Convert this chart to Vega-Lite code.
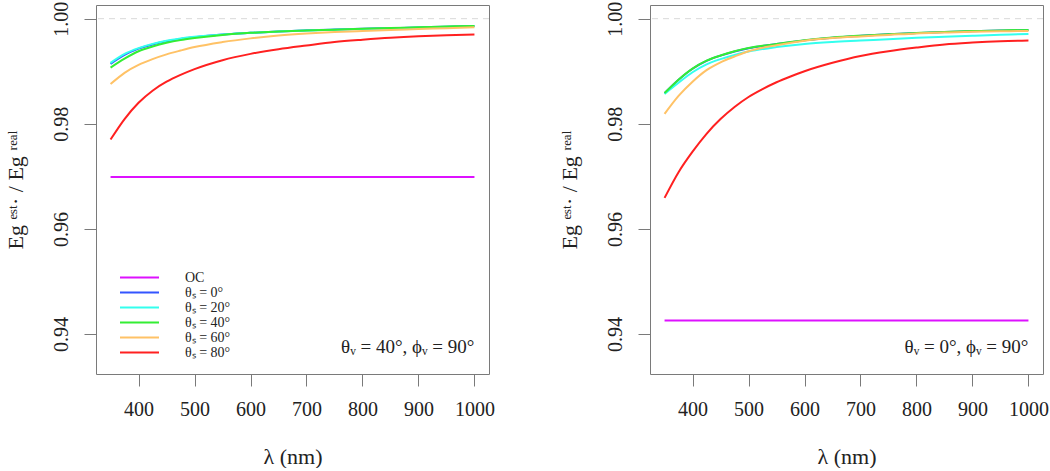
{
  "$schema": "https://vega.github.io/schema/vega-lite/v6.json",
  "autosize": {"type": "pad"},
  "padding": {"left": 3, "top": 0, "right": 0, "bottom": 0},
  "bounds": "flush",
  "spacing": 161,
  "background": "white",
  "config": {
    "font": "Liberation Serif",
    "view": {"stroke": "#7a7a7a", "strokeWidth": 1},
    "axis": {"grid": false, "domain": false, "tickColor": "#7a7a7a", "tickSize": 12, "labelFontSize": 20, "titleFontSize": 22, "labelColor": "#222222", "titleColor": "#222222", "titleFontWeight": "normal"},
    "axisX": {"labelPadding": 13, "titlePadding": 27},
    "axisY": {"labelAngle": -90, "labelAlign": "center", "labelBaseline": "bottom", "labelPadding": 13, "titlePadding": 24}
  },
  "datasets": {
    "left": [
      {"lambda": 350, "ratio": 0.9699, "series": "OC"},
      {"lambda": 1000, "ratio": 0.9699, "series": "OC"},
      {"lambda": 350, "ratio": 0.9914, "series": "θₛ = 0°"},
      {"lambda": 375, "ratio": 0.9931, "series": "θₛ = 0°"},
      {"lambda": 400, "ratio": 0.9943, "series": "θₛ = 0°"},
      {"lambda": 425, "ratio": 0.9951, "series": "θₛ = 0°"},
      {"lambda": 450, "ratio": 0.9957, "series": "θₛ = 0°"},
      {"lambda": 475, "ratio": 0.99615, "series": "θₛ = 0°"},
      {"lambda": 500, "ratio": 0.99648, "series": "θₛ = 0°"},
      {"lambda": 550, "ratio": 0.99698, "series": "θₛ = 0°"},
      {"lambda": 600, "ratio": 0.9973, "series": "θₛ = 0°"},
      {"lambda": 650, "ratio": 0.99758, "series": "θₛ = 0°"},
      {"lambda": 700, "ratio": 0.99778, "series": "θₛ = 0°"},
      {"lambda": 750, "ratio": 0.99793, "series": "θₛ = 0°"},
      {"lambda": 800, "ratio": 0.99808, "series": "θₛ = 0°"},
      {"lambda": 850, "ratio": 0.9982, "series": "θₛ = 0°"},
      {"lambda": 900, "ratio": 0.99834, "series": "θₛ = 0°"},
      {"lambda": 950, "ratio": 0.99847, "series": "θₛ = 0°"},
      {"lambda": 1000, "ratio": 0.9986, "series": "θₛ = 0°"},
      {"lambda": 350, "ratio": 0.9916, "series": "θₛ = 20°"},
      {"lambda": 375, "ratio": 0.9933, "series": "θₛ = 20°"},
      {"lambda": 400, "ratio": 0.9944, "series": "θₛ = 20°"},
      {"lambda": 425, "ratio": 0.9952, "series": "θₛ = 20°"},
      {"lambda": 450, "ratio": 0.9958, "series": "θₛ = 20°"},
      {"lambda": 475, "ratio": 0.99622, "series": "θₛ = 20°"},
      {"lambda": 500, "ratio": 0.99655, "series": "θₛ = 20°"},
      {"lambda": 550, "ratio": 0.997, "series": "θₛ = 20°"},
      {"lambda": 600, "ratio": 0.9973, "series": "θₛ = 20°"},
      {"lambda": 650, "ratio": 0.99758, "series": "θₛ = 20°"},
      {"lambda": 700, "ratio": 0.99775, "series": "θₛ = 20°"},
      {"lambda": 750, "ratio": 0.9979, "series": "θₛ = 20°"},
      {"lambda": 800, "ratio": 0.99805, "series": "θₛ = 20°"},
      {"lambda": 850, "ratio": 0.99818, "series": "θₛ = 20°"},
      {"lambda": 900, "ratio": 0.99832, "series": "θₛ = 20°"},
      {"lambda": 950, "ratio": 0.99845, "series": "θₛ = 20°"},
      {"lambda": 1000, "ratio": 0.99858, "series": "θₛ = 20°"},
      {"lambda": 350, "ratio": 0.9907, "series": "θₛ = 40°"},
      {"lambda": 375, "ratio": 0.9924, "series": "θₛ = 40°"},
      {"lambda": 400, "ratio": 0.9938, "series": "θₛ = 40°"},
      {"lambda": 425, "ratio": 0.9947, "series": "θₛ = 40°"},
      {"lambda": 450, "ratio": 0.9954, "series": "θₛ = 40°"},
      {"lambda": 475, "ratio": 0.99592, "series": "θₛ = 40°"},
      {"lambda": 500, "ratio": 0.9963, "series": "θₛ = 40°"},
      {"lambda": 550, "ratio": 0.9969, "series": "θₛ = 40°"},
      {"lambda": 600, "ratio": 0.9973, "series": "θₛ = 40°"},
      {"lambda": 650, "ratio": 0.99755, "series": "θₛ = 40°"},
      {"lambda": 700, "ratio": 0.99775, "series": "θₛ = 40°"},
      {"lambda": 750, "ratio": 0.9979, "series": "θₛ = 40°"},
      {"lambda": 800, "ratio": 0.99808, "series": "θₛ = 40°"},
      {"lambda": 850, "ratio": 0.99822, "series": "θₛ = 40°"},
      {"lambda": 900, "ratio": 0.99836, "series": "θₛ = 40°"},
      {"lambda": 950, "ratio": 0.9985, "series": "θₛ = 40°"},
      {"lambda": 1000, "ratio": 0.99862, "series": "θₛ = 40°"},
      {"lambda": 350, "ratio": 0.98756, "series": "θₛ = 60°"},
      {"lambda": 375, "ratio": 0.9897, "series": "θₛ = 60°"},
      {"lambda": 400, "ratio": 0.9912, "series": "θₛ = 60°"},
      {"lambda": 425, "ratio": 0.9923, "series": "θₛ = 60°"},
      {"lambda": 450, "ratio": 0.9932, "series": "θₛ = 60°"},
      {"lambda": 475, "ratio": 0.99393, "series": "θₛ = 60°"},
      {"lambda": 500, "ratio": 0.9946, "series": "θₛ = 60°"},
      {"lambda": 550, "ratio": 0.99555, "series": "θₛ = 60°"},
      {"lambda": 600, "ratio": 0.99625, "series": "θₛ = 60°"},
      {"lambda": 650, "ratio": 0.99678, "series": "θₛ = 60°"},
      {"lambda": 700, "ratio": 0.99716, "series": "θₛ = 60°"},
      {"lambda": 750, "ratio": 0.99744, "series": "θₛ = 60°"},
      {"lambda": 800, "ratio": 0.99766, "series": "θₛ = 60°"},
      {"lambda": 850, "ratio": 0.99785, "series": "θₛ = 60°"},
      {"lambda": 900, "ratio": 0.99802, "series": "θₛ = 60°"},
      {"lambda": 950, "ratio": 0.99819, "series": "θₛ = 60°"},
      {"lambda": 1000, "ratio": 0.99836, "series": "θₛ = 60°"},
      {"lambda": 350, "ratio": 0.977, "series": "θₛ = 80°"},
      {"lambda": 375, "ratio": 0.9809, "series": "θₛ = 80°"},
      {"lambda": 400, "ratio": 0.984, "series": "θₛ = 80°"},
      {"lambda": 425, "ratio": 0.9863, "series": "θₛ = 80°"},
      {"lambda": 450, "ratio": 0.988, "series": "θₛ = 80°"},
      {"lambda": 475, "ratio": 0.9893, "series": "θₛ = 80°"},
      {"lambda": 500, "ratio": 0.9904, "series": "θₛ = 80°"},
      {"lambda": 550, "ratio": 0.9921, "series": "θₛ = 80°"},
      {"lambda": 600, "ratio": 0.9933, "series": "θₛ = 80°"},
      {"lambda": 650, "ratio": 0.9942, "series": "θₛ = 80°"},
      {"lambda": 700, "ratio": 0.9949, "series": "θₛ = 80°"},
      {"lambda": 750, "ratio": 0.99555, "series": "θₛ = 80°"},
      {"lambda": 800, "ratio": 0.996, "series": "θₛ = 80°"},
      {"lambda": 850, "ratio": 0.99638, "series": "θₛ = 80°"},
      {"lambda": 900, "ratio": 0.99665, "series": "θₛ = 80°"},
      {"lambda": 950, "ratio": 0.99683, "series": "θₛ = 80°"},
      {"lambda": 1000, "ratio": 0.99697, "series": "θₛ = 80°"}
    ],
    "right": [
      {"lambda": 350, "ratio": 0.9426, "series": "OC"},
      {"lambda": 1000, "ratio": 0.9426, "series": "OC"},
      {"lambda": 350, "ratio": 0.98582, "series": "θₛ = 0°"},
      {"lambda": 375, "ratio": 0.98837, "series": "θₛ = 0°"},
      {"lambda": 400, "ratio": 0.99047, "series": "θₛ = 0°"},
      {"lambda": 425, "ratio": 0.99197, "series": "θₛ = 0°"},
      {"lambda": 450, "ratio": 0.99297, "series": "θₛ = 0°"},
      {"lambda": 475, "ratio": 0.99377, "series": "θₛ = 0°"},
      {"lambda": 500, "ratio": 0.99437, "series": "θₛ = 0°"},
      {"lambda": 550, "ratio": 0.99517, "series": "θₛ = 0°"},
      {"lambda": 600, "ratio": 0.99587, "series": "θₛ = 0°"},
      {"lambda": 650, "ratio": 0.99639, "series": "θₛ = 0°"},
      {"lambda": 700, "ratio": 0.99674, "series": "θₛ = 0°"},
      {"lambda": 750, "ratio": 0.99702, "series": "θₛ = 0°"},
      {"lambda": 800, "ratio": 0.99725, "series": "θₛ = 0°"},
      {"lambda": 850, "ratio": 0.99745, "series": "θₛ = 0°"},
      {"lambda": 900, "ratio": 0.9976, "series": "θₛ = 0°"},
      {"lambda": 950, "ratio": 0.99773, "series": "θₛ = 0°"},
      {"lambda": 1000, "ratio": 0.99783, "series": "θₛ = 0°"},
      {"lambda": 350, "ratio": 0.98566, "series": "θₛ = 20°"},
      {"lambda": 375, "ratio": 0.9878, "series": "θₛ = 20°"},
      {"lambda": 400, "ratio": 0.9898, "series": "θₛ = 20°"},
      {"lambda": 425, "ratio": 0.9913, "series": "θₛ = 20°"},
      {"lambda": 450, "ratio": 0.9923, "series": "θₛ = 20°"},
      {"lambda": 475, "ratio": 0.9931, "series": "θₛ = 20°"},
      {"lambda": 500, "ratio": 0.99375, "series": "θₛ = 20°"},
      {"lambda": 550, "ratio": 0.9946, "series": "θₛ = 20°"},
      {"lambda": 600, "ratio": 0.9952, "series": "θₛ = 20°"},
      {"lambda": 650, "ratio": 0.99557, "series": "θₛ = 20°"},
      {"lambda": 700, "ratio": 0.99583, "series": "θₛ = 20°"},
      {"lambda": 750, "ratio": 0.9961, "series": "θₛ = 20°"},
      {"lambda": 800, "ratio": 0.99635, "series": "θₛ = 20°"},
      {"lambda": 850, "ratio": 0.99655, "series": "θₛ = 20°"},
      {"lambda": 900, "ratio": 0.99675, "series": "θₛ = 20°"},
      {"lambda": 950, "ratio": 0.99693, "series": "θₛ = 20°"},
      {"lambda": 1000, "ratio": 0.9971, "series": "θₛ = 20°"},
      {"lambda": 350, "ratio": 0.98585, "series": "θₛ = 40°"},
      {"lambda": 375, "ratio": 0.9884, "series": "θₛ = 40°"},
      {"lambda": 400, "ratio": 0.9905, "series": "θₛ = 40°"},
      {"lambda": 425, "ratio": 0.992, "series": "θₛ = 40°"},
      {"lambda": 450, "ratio": 0.993, "series": "θₛ = 40°"},
      {"lambda": 475, "ratio": 0.9938, "series": "θₛ = 40°"},
      {"lambda": 500, "ratio": 0.9944, "series": "θₛ = 40°"},
      {"lambda": 550, "ratio": 0.9952, "series": "θₛ = 40°"},
      {"lambda": 600, "ratio": 0.9959, "series": "θₛ = 40°"},
      {"lambda": 650, "ratio": 0.99642, "series": "θₛ = 40°"},
      {"lambda": 700, "ratio": 0.99677, "series": "θₛ = 40°"},
      {"lambda": 750, "ratio": 0.99705, "series": "θₛ = 40°"},
      {"lambda": 800, "ratio": 0.99728, "series": "θₛ = 40°"},
      {"lambda": 850, "ratio": 0.99748, "series": "θₛ = 40°"},
      {"lambda": 900, "ratio": 0.99763, "series": "θₛ = 40°"},
      {"lambda": 950, "ratio": 0.99776, "series": "θₛ = 40°"},
      {"lambda": 1000, "ratio": 0.99786, "series": "θₛ = 40°"},
      {"lambda": 350, "ratio": 0.98187, "series": "θₛ = 60°"},
      {"lambda": 375, "ratio": 0.9853, "series": "θₛ = 60°"},
      {"lambda": 400, "ratio": 0.988, "series": "θₛ = 60°"},
      {"lambda": 425, "ratio": 0.9902, "series": "θₛ = 60°"},
      {"lambda": 450, "ratio": 0.9917, "series": "θₛ = 60°"},
      {"lambda": 475, "ratio": 0.9928, "series": "θₛ = 60°"},
      {"lambda": 500, "ratio": 0.9938, "series": "θₛ = 60°"},
      {"lambda": 550, "ratio": 0.99495, "series": "θₛ = 60°"},
      {"lambda": 600, "ratio": 0.9958, "series": "θₛ = 60°"},
      {"lambda": 650, "ratio": 0.9963, "series": "θₛ = 60°"},
      {"lambda": 700, "ratio": 0.99662, "series": "θₛ = 60°"},
      {"lambda": 750, "ratio": 0.9969, "series": "θₛ = 60°"},
      {"lambda": 800, "ratio": 0.9972, "series": "θₛ = 60°"},
      {"lambda": 850, "ratio": 0.99735, "series": "θₛ = 60°"},
      {"lambda": 900, "ratio": 0.9975, "series": "θₛ = 60°"},
      {"lambda": 950, "ratio": 0.9976, "series": "θₛ = 60°"},
      {"lambda": 1000, "ratio": 0.99767, "series": "θₛ = 60°"},
      {"lambda": 350, "ratio": 0.9659, "series": "θₛ = 80°"},
      {"lambda": 375, "ratio": 0.9708, "series": "θₛ = 80°"},
      {"lambda": 400, "ratio": 0.9747, "series": "θₛ = 80°"},
      {"lambda": 425, "ratio": 0.9781, "series": "θₛ = 80°"},
      {"lambda": 450, "ratio": 0.9809, "series": "θₛ = 80°"},
      {"lambda": 475, "ratio": 0.9832, "series": "θₛ = 80°"},
      {"lambda": 500, "ratio": 0.9851, "series": "θₛ = 80°"},
      {"lambda": 525, "ratio": 0.9866, "series": "θₛ = 80°"},
      {"lambda": 550, "ratio": 0.9879, "series": "θₛ = 80°"},
      {"lambda": 575, "ratio": 0.989, "series": "θₛ = 80°"},
      {"lambda": 600, "ratio": 0.99, "series": "θₛ = 80°"},
      {"lambda": 650, "ratio": 0.9916, "series": "θₛ = 80°"},
      {"lambda": 700, "ratio": 0.9929, "series": "θₛ = 80°"},
      {"lambda": 750, "ratio": 0.9938, "series": "θₛ = 80°"},
      {"lambda": 800, "ratio": 0.9945, "series": "θₛ = 80°"},
      {"lambda": 850, "ratio": 0.9951, "series": "θₛ = 80°"},
      {"lambda": 900, "ratio": 0.99545, "series": "θₛ = 80°"},
      {"lambda": 950, "ratio": 0.9957, "series": "θₛ = 80°"},
      {"lambda": 1000, "ratio": 0.99583, "series": "θₛ = 80°"}
    ]
  },
  "resolve": {"scale": {"color": "independent"}, "legend": {"color": "independent"}},
  "hconcat": [
    {
      "width": 393,
      "height": 369,
      "layer": [
        {
          "data": {"values": [{}]},
          "mark": {"type": "rule", "strokeDash": [6, 5], "color": "#d9d9d9", "strokeWidth": 1},
          "encoding": {"y": {"datum": 1, "type": "quantitative", "scale": {"domain": [0.9324, 1.0026], "nice": false, "zero": false}, "axis": {"title": "Eg ᵉˢᵗ· / Eg ʳᵉᵃˡ", "values": [0.94, 0.96, 0.98, 1.0], "format": ".2f"}}}
        },
        {
          "data": {"name": "left"},
          "mark": {"type": "line", "strokeWidth": 2, "interpolate": "monotone"},
          "encoding": {
            "x": {"field": "lambda", "type": "quantitative", "scale": {"domain": [324, 1026], "nice": false, "zero": false}, "axis": {"title": "λ (nm)", "values": [400, 500, 600, 700, 800, 900, 1000], "format": "d"}},
            "y": {"field": "ratio", "type": "quantitative", "scale": {"domain": [0.9324, 1.0026], "nice": false, "zero": false}, "axis": {"title": "Eg ᵉˢᵗ· / Eg ʳᵉᵃˡ", "values": [0.94, 0.96, 0.98, 1.0], "format": ".2f"}},
            "color": {"field": "series", "type": "nominal", "sort": null,
              "scale": {"domain": ["OC", "θₛ = 0°", "θₛ = 20°", "θₛ = 40°", "θₛ = 60°", "θₛ = 80°"], "range": ["#dd11ff", "#3355ff", "#33ffee", "#33ee33", "#ffc266", "#ff2020"]},
              "legend": {"orient": "none", "legendX": 36, "legendY": 265, "title": null, "symbolType": "M-3,0H3", "symbolSize": 169, "symbolStrokeWidth": 2, "labelFontSize": 14, "labelOffset": 38, "rowPadding": 0, "padding": 0, "labelColor": "#222222"}}
          }
        },
        {
          "data": {"values": [{}]},
          "mark": {"type": "text", "align": "right", "baseline": "middle", "fontSize": 19, "color": "#222222", "text": "θᵥ = 40°,  ϕᵥ = 90°"},
          "encoding": {"x": {"datum": 1000, "type": "quantitative", "axis": {"title": "λ (nm)", "values": [400, 500, 600, 700, 800, 900, 1000], "format": "d"}}, "y": {"datum": 0.9376, "type": "quantitative", "axis": {"title": "Eg ᵉˢᵗ· / Eg ʳᵉᵃˡ", "values": [0.94, 0.96, 0.98, 1.0], "format": ".2f"}}}
        }
      ]
    },
    {
      "width": 393,
      "height": 369,
      "layer": [
        {
          "data": {"values": [{}]},
          "mark": {"type": "rule", "strokeDash": [6, 5], "color": "#d9d9d9", "strokeWidth": 1},
          "encoding": {"y": {"datum": 1, "type": "quantitative", "scale": {"domain": [0.9324, 1.0026], "nice": false, "zero": false}, "axis": {"title": "Eg ᵉˢᵗ· / Eg ʳᵉᵃˡ", "values": [0.94, 0.96, 0.98, 1.0], "format": ".2f"}}}
        },
        {
          "data": {"name": "right"},
          "mark": {"type": "line", "strokeWidth": 2, "interpolate": "monotone"},
          "encoding": {
            "x": {"field": "lambda", "type": "quantitative", "scale": {"domain": [324, 1026], "nice": false, "zero": false}, "axis": {"title": "λ (nm)", "values": [400, 500, 600, 700, 800, 900, 1000], "format": "d"}},
            "y": {"field": "ratio", "type": "quantitative", "scale": {"domain": [0.9324, 1.0026], "nice": false, "zero": false}, "axis": {"title": "Eg ᵉˢᵗ· / Eg ʳᵉᵃˡ", "values": [0.94, 0.96, 0.98, 1.0], "format": ".2f"}},
            "color": {"field": "series", "type": "nominal", "sort": null,
              "scale": {"domain": ["OC", "θₛ = 0°", "θₛ = 20°", "θₛ = 40°", "θₛ = 60°", "θₛ = 80°"], "range": ["#dd11ff", "#3355ff", "#33ffee", "#33ee33", "#ffc266", "#ff2020"]},
              "legend": null}
          }
        },
        {
          "data": {"values": [{}]},
          "mark": {"type": "text", "align": "right", "baseline": "middle", "fontSize": 19, "color": "#222222", "text": "θᵥ = 0°,  ϕᵥ = 90°"},
          "encoding": {"x": {"datum": 1000, "type": "quantitative", "axis": {"title": "λ (nm)", "values": [400, 500, 600, 700, 800, 900, 1000], "format": "d"}}, "y": {"datum": 0.9376, "type": "quantitative", "axis": {"title": "Eg ᵉˢᵗ· / Eg ʳᵉᵃˡ", "values": [0.94, 0.96, 0.98, 1.0], "format": ".2f"}}}
        }
      ]
    }
  ]
}
